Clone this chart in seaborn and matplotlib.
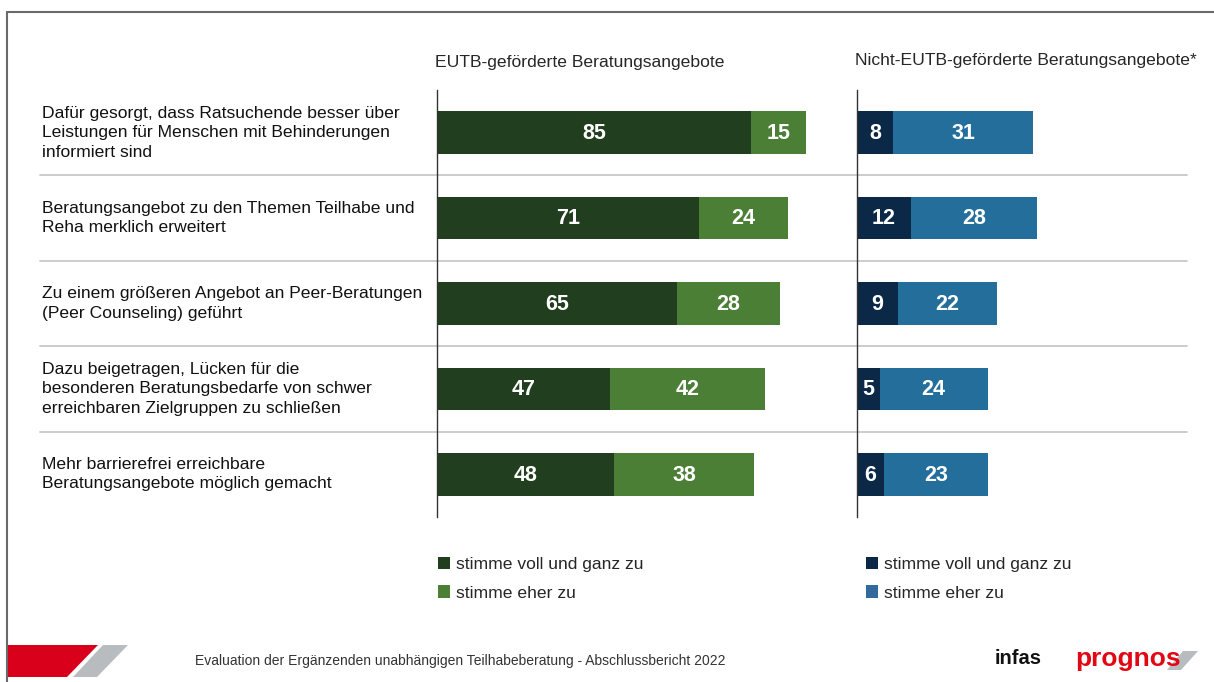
import matplotlib
matplotlib.use("Agg")
import matplotlib.pyplot as plt
import seaborn as sns
import pandas as pd
from matplotlib.patches import Polygon, Patch
from matplotlib.lines import Line2D

# Data
fragen = [
    "Dafür gesorgt, dass Ratsuchende besser über\nLeistungen für Menschen mit Behinderungen\ninformiert sind",
    "Beratungsangebot zu den Themen Teilhabe und\nReha merklich erweitert",
    "Zu einem größeren Angebot an Peer-Beratungen\n(Peer Counseling) geführt",
    "Dazu beigetragen, Lücken für die\nbesonderen Beratungsbedarfe von schwer\nerreichbaren Zielgruppen zu schließen",
    "Mehr barrierefrei erreichbare\nBeratungsangebote möglich gemacht",
]
eutb_voll = [85, 71, 65, 47, 48]
eutb_eher = [15, 24, 28, 42, 38]
nicht_voll = [8, 12, 9, 5, 6]
nicht_eher = [31, 28, 22, 24, 23]
legend_labels = ["stimme voll und ganz zu", "stimme eher zu"]
title_left = "EUTB-geförderte Beratungsangebote"
title_right = "Nicht-EUTB-geförderte Beratungsangebote*"
footer = "Evaluation der Ergänzenden unabhängigen Teilhabeberatung - Abschlussbericht 2022"

green_dark, green_light = "#213f1f", "#4a7f35"
blue_dark, blue_light = "#0b2946", "#246e9c"

sns.set_style("white")
plt.rcParams["font.family"] = ["Liberation Sans", "DejaVu Sans"]

W, H = 1214, 682
fig = plt.figure(figsize=(W / 100, H / 100), dpi=100)


def fx(px):
    return px / W


def fy(py):
    return 1 - py / H


ax_l = fig.add_axes([fx(437), fy(517), fx(840 - 437), fy(90) - fy(517)])
ax_r = fig.add_axes([fx(857), fy(517), fx(1187 - 857), fy(90) - fy(517)])


def stacked(ax, voll, eher, c1, c2, xmax):
    df = pd.DataFrame({"frage": range(len(fragen)), "voll": voll,
                       "total": [a + b for a, b in zip(voll, eher)]})
    sns.barplot(data=df, x="total", y="frage", orient="h", color=c2,
                saturation=1, width=0.5, linewidth=0, ax=ax)
    sns.barplot(data=df, x="voll", y="frage", orient="h", color=c1,
                saturation=1, width=0.5, linewidth=0, ax=ax)
    for i, (a, b) in enumerate(zip(voll, eher)):
        ax.text(a / 2, i + 0.01, str(a), ha="center", va="center", color="white",
                fontsize=15.5, fontweight="bold")
        ax.text(a + b / 2, i + 0.01, str(b), ha="center", va="center", color="white",
                fontsize=15.5, fontweight="bold")
    ax.set_xlim(0, xmax)
    ax.set_ylim(len(fragen) - 0.5, -0.5)
    ax.set_xticks([])
    ax.set_yticks([])
    ax.set_xlabel("")
    ax.set_ylabel("")
    for s in ["top", "right", "bottom"]:
        ax.spines[s].set_visible(False)
    ax.spines["left"].set_color("#333333")
    ax.spines["left"].set_linewidth(1.0)
    ax.patch.set_alpha(0)


stacked(ax_l, eutb_voll, eutb_eher, green_dark, green_light, (840 - 437) / 3.69)
stacked(ax_r, nicht_voll, nicht_eher, blue_dark, blue_light, (1187 - 857) / 4.51)

# row labels and separators
fig.canvas.draw()
for i, t in enumerate(fragen):
    yc = ax_l.transData.transform((0, i))[1] / H
    fig.text(fx(42), yc, t, ha="left", va="center", fontsize=12.6,
             linespacing=1.36, color="#111111")
for i in range(len(fragen) - 1):
    yb = ax_l.transData.transform((0, i + 0.5))[1] / H
    fig.add_artist(Line2D([fx(40), fx(1187)], [yb, yb], color="#c8c8c8",
                          lw=1.3, transform=fig.transFigure, zorder=0))

fig.text(fx(435), fy(62), title_left, ha="left", va="center", fontsize=12.6)
fig.text(fx(855), fy(60), title_right, ha="left", va="center", fontsize=12.6)

# legends
for x0, cols in [(431, (green_dark, green_light)), (859, (blue_dark, "#336a9e"))]:
    handles = [Patch(facecolor=c, edgecolor="none") for c in cols]
    fig.legend(handles, legend_labels, loc="upper left",
               bbox_to_anchor=(fx(x0), fy(550)), frameon=False,
               fontsize=12.6, handlelength=0.7, handleheight=0.7,
               handletextpad=0.3, labelspacing=0.75, borderaxespad=0)

# frame
fig.add_artist(Line2D([fx(7), 1], [fy(12), fy(12)], color="#6a6a6a", lw=1.5,
                      transform=fig.transFigure))
fig.add_artist(Line2D([fx(7), fx(7)], [fy(12), 0], color="#6a6a6a", lw=1.5,
                      transform=fig.transFigure))

# footer
red = [(7, 645), (98, 645), (67, 677), (7, 677)]
grey = [(103, 645), (128, 645), (97, 677), (73, 677)]
fig.add_artist(Polygon([(fx(a), fy(b)) for a, b in red], closed=True,
                       facecolor="#d9001b", edgecolor="none", transform=fig.transFigure))
fig.add_artist(Polygon([(fx(a), fy(b)) for a, b in grey], closed=True,
                       facecolor="#b8bcbf", edgecolor="none", transform=fig.transFigure))
fig.text(fx(195), fy(661), footer, ha="left", va="center", fontsize=10,
         color="#333333")
fig.text(fx(995), fy(659), "infas", ha="left", va="center", fontsize=14.5,
         fontweight="bold", color="#111111")
slash = [(1183, 651), (1198, 651), (1181, 670), (1167, 670)]
fig.add_artist(Polygon([(fx(a), fy(b)) for a, b in slash], closed=True,
                       facecolor="#b8bcbf", edgecolor="none", transform=fig.transFigure,
                       zorder=1))
fig.text(fx(1075), fy(659), "prognos", ha="left", va="center", fontsize=19,
         fontweight="bold", color="#e30613", zorder=2)

fig.savefig("out.png", dpi=100)
